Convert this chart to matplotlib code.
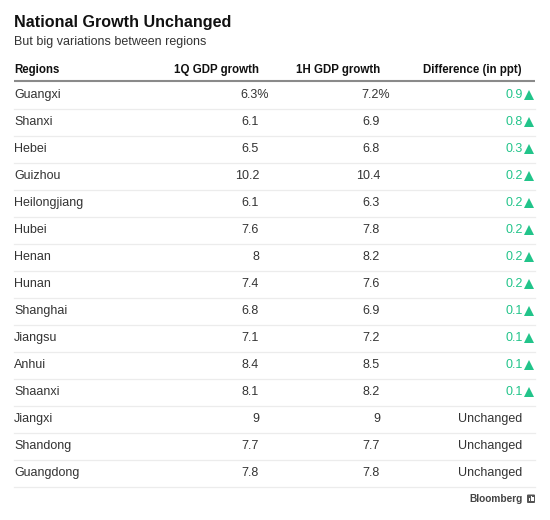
import matplotlib
matplotlib.use("Agg")
import matplotlib.pyplot as plt
from matplotlib.patches import Rectangle, FancyBboxPatch

plt.rcParams['font.family'] = ['Liberation Sans', 'DejaVu Sans']

title = "National Growth Unchanged"
subtitle = "But big variations between regions"
headers = ["Regions", "1Q GDP growth", "1H GDP growth", "Difference (in ppt)"]
regions = ["Guangxi", "Shanxi", "Hebei", "Guizhou", "Heilongjiang", "Hubei", "Henan",
           "Hunan", "Shanghai", "Jiangsu", "Anhui", "Shaanxi", "Jiangxi", "Shandong", "Guangdong"]
q1_growth = [6.3, 6.1, 6.5, 10.2, 6.1, 7.6, 8, 7.4, 6.8, 7.1, 8.4, 8.1, 9, 7.7, 7.8]
h1_growth = [7.2, 6.9, 6.8, 10.4, 6.3, 7.8, 8.2, 7.6, 6.9, 7.2, 8.5, 8.2, 9, 7.7, 7.8]
difference = [0.9, 0.8, 0.3, 0.2, 0.2, 0.2, 0.2, 0.2, 0.1, 0.1, 0.1, 0.1, 0, 0, 0]
source = "Bloomberg"

W, H = 550, 520
fig = plt.figure(figsize=(W / 100, H / 100), dpi=100)
ax = fig.add_axes([0, 0, 1, 1])
ax.set_xlim(0, W)
ax.set_ylim(H, 0)
ax.axis("off")

green = "#22c48a"
txt = "#333333"
dark = "#111111"

left = 14
right_line = 535
col_right = [259, 380, 522]
pct_w = 10

ax.text(left, 23, title, fontsize=11.6, fontweight="bold", color=dark, va="center", ha="left")
ax.text(left, 42, subtitle, fontsize=9.0, color=txt, va="center", ha="left")

hy = 70
ax.text(left, hy, headers[0], fontsize=8.3, fontweight="bold", color=dark, va="center", ha="left")
for xr, h in zip(col_right, headers[1:]):
    ax.text(xr, hy, h, fontsize=8.3, fontweight="bold", color=dark, va="center", ha="right")
ax.plot([left, right_line], [81, 81], color="#8a8a8a", lw=1.5, solid_capstyle="butt")

y0, step = 95, 27
fs = 9
for i, (r, a, b, d) in enumerate(zip(regions, q1_growth, h1_growth, difference)):
    y = y0 + i * step
    ax.text(left, y, r, fontsize=fs, color=txt, va="center", ha="left")
    if i == 0:
        ax.text(col_right[0] + pct_w, y, f"{a:g}%", fontsize=fs, color=txt, va="center", ha="right")
        ax.text(col_right[1] + pct_w, y, f"{b:g}%", fontsize=fs, color=txt, va="center", ha="right")
    else:
        ax.text(col_right[0], y, f"{a:g}", fontsize=fs, color=txt, va="center", ha="right")
        ax.text(col_right[1], y, f"{b:g}", fontsize=fs, color=txt, va="center", ha="right")
    if d > 0:
        ax.text(col_right[2] + 1, y, f"{d:g}", fontsize=fs, color=green, va="center", ha="right")
        ax.plot([col_right[2] + 6.8], [y - 0.5], marker="^", color=green, markersize=6.8,
                markeredgewidth=0, linestyle="none")
    else:
        ax.text(col_right[2], y, "Unchanged", fontsize=fs, color=txt, va="center", ha="right")
    ax.plot([left, right_line], [y + 14, y + 14], color="#ececec", lw=0.9)

ax.text(523, 499, source, fontsize=7.3, fontweight="bold", color="#444444", va="center", ha="right")
ax.add_patch(FancyBboxPatch((527, 494.5), 8, 8.5, boxstyle="round,pad=0,rounding_size=1",
                            facecolor="#555555", edgecolor="none"))
for k, hh in enumerate([2.5, 4.5, 3.5]):
    ax.add_patch(Rectangle((528.6 + k * 1.9, 500.5 - hh), 1.1, hh, facecolor="white", edgecolor="none"))

fig.savefig("out.png", dpi=100, facecolor="white")
